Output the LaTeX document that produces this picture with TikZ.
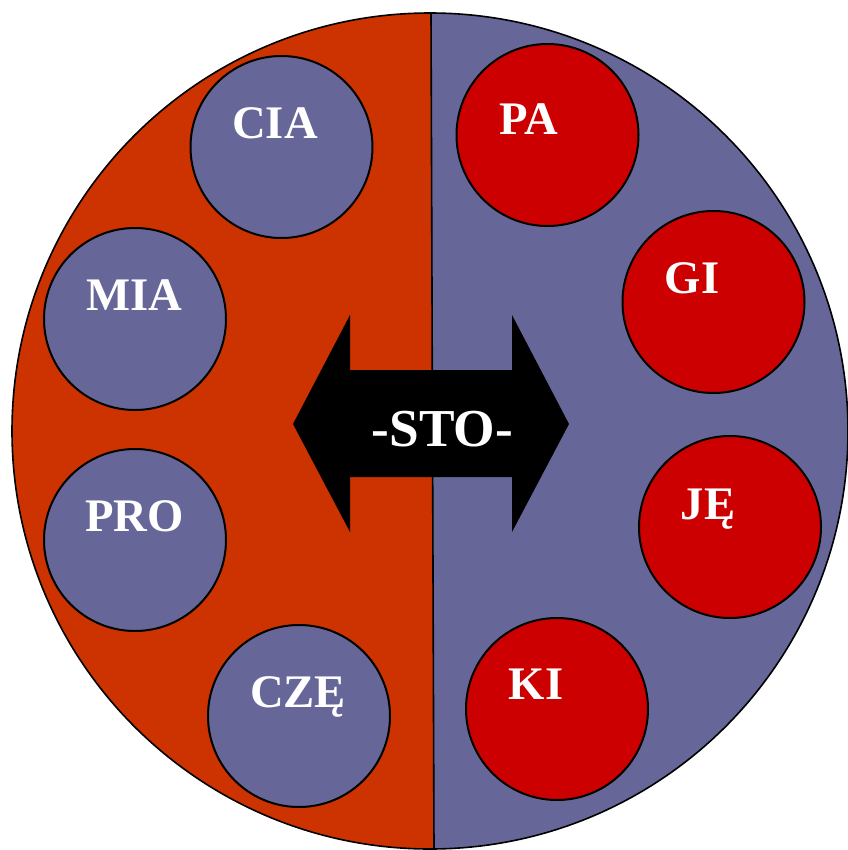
\documentclass[tikz,border=0pt]{standalone}
\usepackage{fontspec}
\setmainfont{Liberation Serif}
\definecolor{rustHalf}{HTML}{CC3300}
\definecolor{slateHalf}{HTML}{666699}
\definecolor{redBlob}{HTML}{CC0000}
\tikzset{every picture/.style={line width=0.75pt}}

\begin{document}
\begin{tikzpicture}[x=0.75pt,y=0.75pt,yscale=-1,xscale=1,
	blob/.style={circle,draw,line width=1.5,minimum size=136.5pt,inner sep=0pt},
	lbl/.style={anchor=base,text=white,inner sep=0pt,font=\bfseries\fontsize{35}{35}\selectfont}]
	\useasboundingbox (0,0) rectangle (848,850);

	%Shape: Circle [id:disc]
	\fill [slateHalf] (430,431) circle (418);
	\begin{scope}
		\clip (0,0) -- (431,0) -- (434,850) -- (0,850) -- cycle;
		\fill [rustHalf] (430,431) circle (418);
	\end{scope}
	%Straight Lines [id:divider]
	\draw [line width=1.2]  (431,13) -- (434,849) ;
	\draw [line width=1.2]  (430,431) circle (418);

	%Shape: Arrow [id:swap]
	\fill  (293,424) -- (350,315) -- (350,370) -- (512,370) -- (512,315) -- (569,424) -- (512,532) -- (512,477) -- (350,477) -- (350,532) -- cycle ;

	%Shape: Circle (left)
	\node [blob,fill=slateHalf] (cia) at (281.5,147) {};
	\node [blob,fill=slateHalf] (mia) at (135,319) {};
	\node [blob,fill=slateHalf] (pro) at (135,540) {};
	\node [blob,fill=slateHalf] (cze) at (299,716) {};
	%Shape: Circle (right)
	\node [blob,fill=redBlob] (pa) at (547.5,135) {};
	\node [blob,fill=redBlob] (gi) at (713.5,302) {};
	\node [blob,fill=redBlob] (je) at (730,527) {};
	\node [blob,fill=redBlob] (ki) at (557,709) {};

	% Text Node
	\node [lbl] (ciaT) at (275,138) {CIA};
	% Text Node
	\node [lbl] (miaT) at (134.5,310) {MIA};
	% Text Node
	\node [lbl] (proT) at (134.5,531) {PRO};
	% Text Node
	\node [lbl] (czeT) at (298,707) {CZĘ};
	% Text Node
	\node [lbl] (paT) at (529,134) {PA};
	% Text Node
	\node [lbl] (giT) at (692,293) {GI};
	% Text Node
	\node [lbl] (jeT) at (708,519) {JĘ};
	% Text Node
	\node [lbl] (kiT) at (536,699) {KI};
	% Text Node
	\node [lbl,font=\bfseries\fontsize{40}{40}\selectfont] (stoT) at (442.5,446) {-STO-};

\end{tikzpicture}
\end{document}
